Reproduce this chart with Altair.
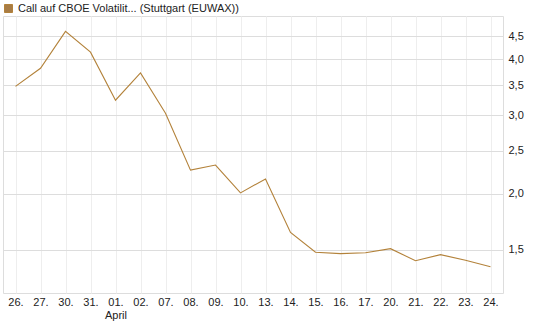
import altair as alt
import pandas as pd

dates = ["26.", "27.", "30.", "31.", "01.", "02.", "07.", "08.", "09.", "10.",
         "13.", "14.", "15.", "16.", "17.", "20.", "21.", "22.", "23.", "24."]
values = [3.48, 3.82, 4.62, 4.15, 3.24, 3.73, 3.03, 2.26, 2.32, 2.01,
          2.16, 1.64, 1.48, 1.47, 1.477, 1.508, 1.417, 1.462, 1.42, 1.374]
series_name = "Call auf CBOE Volatilit... (Stuttgart (EUWAX))"
y_ticks = [1.5, 2.0, 2.5, 3.0, 3.5, 4.0, 4.5]

df = pd.DataFrame({"date": dates, "value": values, "series": series_name})

line_color = "#b3823a"

chart = alt.Chart(df).mark_line(strokeWidth=1.1, color=line_color).encode(
    x=alt.X("date:O", sort=dates, scale=alt.Scale(padding=0.5),
            axis=alt.Axis(title=None, labelAngle=0, domain=False, ticks=False,
                          grid=True, gridColor="#eeeeee", labelPadding=3,
                          labelFontSize=11, labelColor="#222222", labelFont="Liberation Sans",
                          labelExpr="datum.label == '01.' ? ['01.', 'April'] : datum.label")),
    y=alt.Y("value:Q", scale=alt.Scale(type="log", domain=[1.2, 5.0], nice=False, zero=False),
            axis=alt.Axis(title=None, orient="right", values=y_ticks, domain=False, ticks=False,
                          grid=True, gridColor="#dddddd", labelPadding=5,
                          labelFontSize=11, labelColor="#222222", labelFont="Liberation Sans",
                          labelExpr="replace(format(datum.value, '.1f'), '.', ',')")),
    color=alt.Color("series:N", scale=alt.Scale(range=[line_color]),
                    legend=alt.Legend(title=None, orient="none", legendX=0, legendY=-13,
                                      symbolType="square", symbolSize=64,
                                      symbolFillColor="#a87c45", symbolStrokeColor="#4a3a28",
                                      symbolStrokeWidth=1, labelFontSize=11,
                                      labelFont="Liberation Sans", labelColor="#222222",
                                      labelLimit=400, symbolOffset=0, padding=0)),
).properties(
    width=500, height=277,
    padding={"left": 3, "top": 16, "right": 42, "bottom": 34},
    autosize=alt.AutoSizeParams(type="none"),
).configure_view(stroke="#d8d8d8", strokeWidth=1).configure(background="white")

chart.save("out.html", embed_options={"renderer": "svg", "actions": False})
